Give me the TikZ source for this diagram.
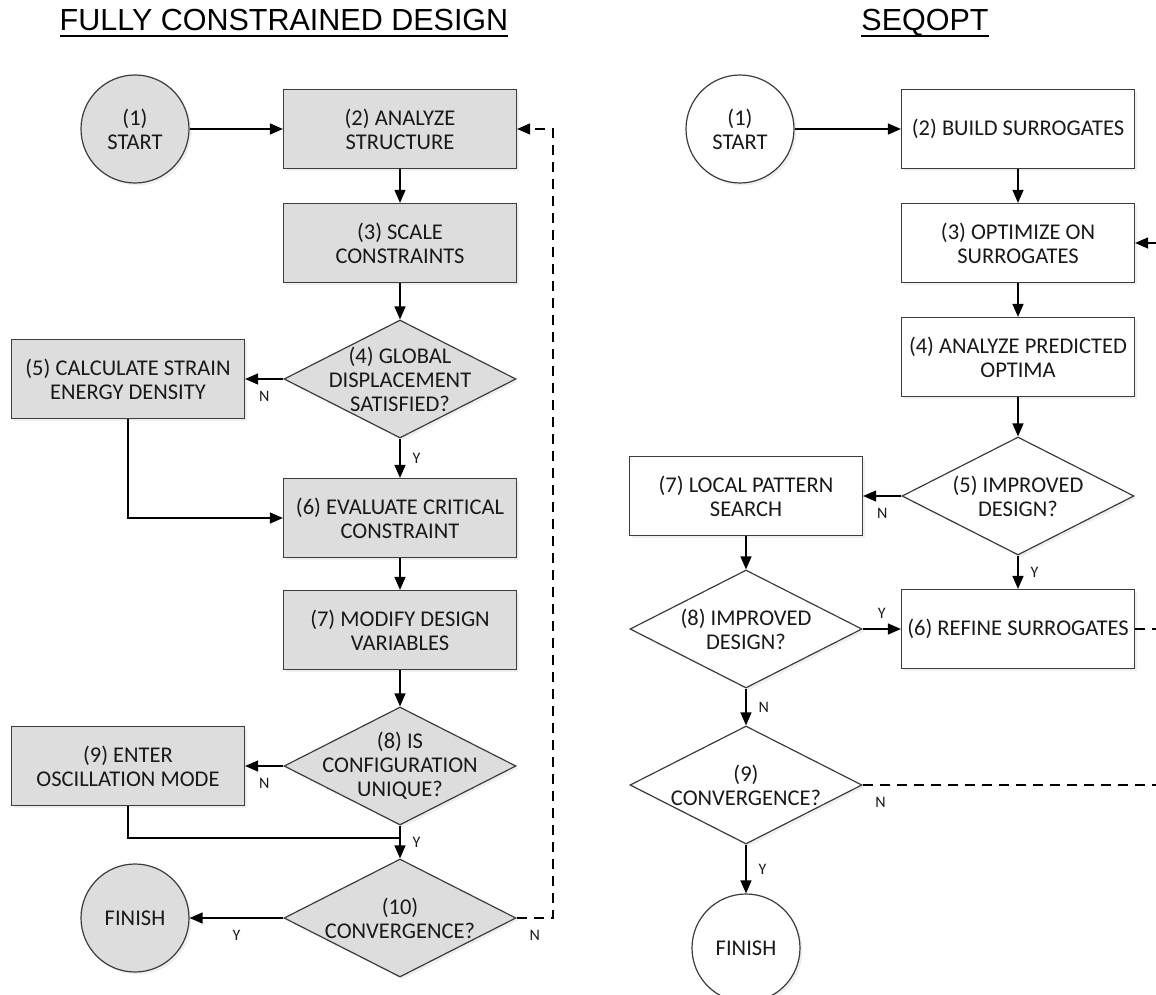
\documentclass[tikz,border=0pt]{standalone}
\usepackage{fontspec}
\setmainfont{Carlito}
\newfontfamily\titlefont{Liberation Sans}
\usetikzlibrary{shapes.geometric,arrows.meta,shadows}
\definecolor{boxgray}{RGB}{221,221,221}
\definecolor{edgegray}{RGB}{60,60,60}
\begin{document}
\begin{tikzpicture}[x=1pt,y=-1pt,
  every node/.style={font=\fontsize{22.5}{24}\selectfont, text=black!90},
  base/.style={draw=edgegray, line width=1.2pt, drop shadow={shadow xshift=2.5pt, shadow yshift=-2.5pt, fill=black!12}},
  proc/.style={base, rectangle, minimum width=233pt, minimum height=79pt, inner sep=0pt, align=center},
  dec/.style={base, diamond, minimum width=232pt, minimum height=118pt, inner sep=0pt},
  term/.style={base, circle, minimum size=108pt, inner sep=0pt, align=center},
  dtext/.style={align=center, inner sep=0pt},
  arr/.style={line width=1.3pt, -{Triangle[length=13pt,width=11pt]}},
  conn/.style={line width=1.3pt},
  dsh/.style={line width=1.3pt, dash pattern=on 10pt off 7pt},
  lab/.style={font=\fontsize{16}{18}\selectfont, inner sep=2pt},
  ttl/.style={font=\titlefont\fontsize{30.5}{36}\selectfont, anchor=base, inner sep=0pt, text=black}
]
\useasboundingbox (0,0) rectangle (1156,995);
\clip (0,0) rectangle (1156,995);
\fill[white] (0,0) rectangle (1156,995);

% titles
\node[ttl] (t1) at (284,31) {FULLY CONSTRAINED DESIGN};
\draw[line width=1.8pt] ([yshift=-5pt]t1.base west) -- ([yshift=-5pt]t1.base east);
\node[ttl] (t2) at (925,31) {SEQOPT};
\draw[line width=1.8pt] ([yshift=-5pt]t2.base west) -- ([yshift=-5pt]t2.base east);

% left chart
\node[term, fill=boxgray] (s1) at (135,129) {(1)\\START};
\node[proc, fill=boxgray] (b2) at (400,129) {(2) ANALYZE\\STRUCTURE};
\node[proc, fill=boxgray] (b3) at (400,243) {(3) SCALE\\CONSTRAINTS};
\node[dec, fill=boxgray, label={[dtext]center:{(4) GLOBAL\\DISPLACEMENT\\SATISFIED?}}] (d4) at (400,379) {};
\node[proc, fill=boxgray] (b5) at (128,379) {(5) CALCULATE STRAIN\\ENERGY DENSITY};
\node[proc, fill=boxgray] (b6) at (400,518) {(6) EVALUATE CRITICAL\\CONSTRAINT};
\node[proc, fill=boxgray] (b7) at (400,630) {(7) MODIFY DESIGN\\VARIABLES};
\node[dec, fill=boxgray, label={[dtext]center:{(8) IS\\CONFIGURATION\\UNIQUE?}}] (d8) at (400,766) {};
\node[proc, fill=boxgray] (b9) at (128,766) {(9) ENTER\\OSCILLATION MODE};
\node[dec, fill=boxgray, label={[dtext]center:{(10)\\CONVERGENCE?}}] (d10) at (400,918) {};
\node[term, fill=boxgray] (fin) at (135,918) {FINISH};

\draw[arr] (s1) -- (b2);
\draw[arr] (b2) -- (b3);
\draw[arr] (b3) -- (d4);
\draw[arr] (d4) -- node[lab, below=10pt] {N} (b5);
\draw[arr] (d4) -- node[lab, right=10pt] {Y} (b6);
\draw[arr] (b5) |- (b6);
\draw[arr] (b6) -- (b7);
\draw[arr] (b7) -- (d8);
\draw[arr] (d8) -- node[lab, below=10pt] {N} (b9);
\draw[arr] (d8) -- node[lab, right=10pt] {Y} (d10);
\coordinate (j) at (400,838);
\draw[conn] (b9) |- (j);
\draw[arr] (d10) -- node[lab, below=10pt] {Y} (fin);
\coordinate (lp) at (553,918);
\draw[dsh, -{Triangle[length=13pt,width=11pt]}] (d10.east) -- node[lab, below=10pt] {N} (lp) |- (b2.east);

% right chart
\node[term, fill=white] (rs1) at (740,129) {(1)\\START};
\node[proc, fill=white] (rb2) at (1018,129) {(2) BUILD SURROGATES};
\node[proc, fill=white] (rb3) at (1018,243) {(3) OPTIMIZE ON\\SURROGATES};
\node[proc, fill=white] (rb4) at (1018,357) {(4) ANALYZE PREDICTED\\OPTIMA};
\node[dec, fill=white, label={[dtext]center:{(5) IMPROVED\\DESIGN?}}] (rd5) at (1018,496) {};
\node[proc, fill=white] (rb7) at (746,496) {(7) LOCAL PATTERN\\SEARCH};
\node[proc, fill=white] (rb6) at (1018,629) {(6) REFINE SURROGATES};
\node[dec, fill=white, label={[dtext]center:{(8) IMPROVED\\DESIGN?}}] (rd8) at (746,629) {};
\node[dec, fill=white, label={[dtext]center:{(9)\\CONVERGENCE?}}] (rd9) at (746,785) {};
\node[term, fill=white] (rfin) at (746,948) {FINISH};

\draw[arr] (rs1) -- (rb2);
\draw[arr] (rb2) -- (rb3);
\coordinate (rin) at (1160,243);
\draw[arr] (rin) -- (rb3);
\draw[arr] (rb3) -- (rb4);
\draw[arr] (rb4) -- (rd5);
\draw[arr] (rd5) -- node[lab, below=10pt] {N} (rb7);
\draw[arr] (rd5) -- node[lab, right=10pt] {Y} (rb6);
\draw[arr] (rb7) -- (rd8);
\draw[arr] (rd8) -- node[lab, above=8pt] {Y} (rb6);
\coordinate (rout6) at (1160,629);
\draw[dsh] (rb6) -- (rout6);
\draw[arr] (rd8) -- node[lab, right=10pt] {N} (rd9);
\coordinate (rout9) at (1160,785);
\draw[dsh] (rd9) -- node[lab, pos=0.06, below=10pt] {N} (rout9);
\draw[arr] (rd9) -- node[lab, right=10pt] {Y} (rfin);
\end{tikzpicture}
\end{document}
